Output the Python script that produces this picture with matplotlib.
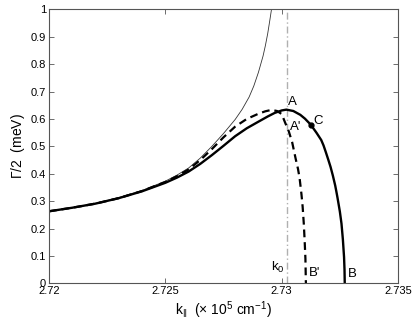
import matplotlib
matplotlib.use("Agg")
import matplotlib.pyplot as plt

plt.rcParams['font.family'] = ['Liberation Sans', 'DejaVu Sans']
plt.rcParams['mathtext.fontset'] = 'custom'
plt.rcParams['mathtext.rm'] = 'Liberation Sans'
plt.rcParams['mathtext.it'] = 'Liberation Sans'

# solid curve (A, C, B)
k_solid = [2.7200, 2.7210, 2.7220, 2.7230, 2.7240, 2.7250, 2.7255, 2.7260, 2.7265,
           2.7270, 2.7275, 2.7280, 2.7285, 2.7290, 2.7294, 2.7297, 2.7300, 2.7302,
           2.7305, 2.7308, 2.7310, 2.73125, 2.7315, 2.7317, 2.7318, 2.7319, 2.7320,
           2.7321, 2.7322, 2.7323, 2.73235, 2.7324, 2.7325, 2.73257, 2.73263, 2.73268,
           2.7327, 2.73271]
g_solid = [0.263, 0.276, 0.291, 0.311, 0.336, 0.367, 0.386, 0.408, 0.436,
           0.468, 0.502, 0.537, 0.566, 0.590, 0.609, 0.622, 0.631, 0.634,
           0.629, 0.615, 0.601, 0.579, 0.549, 0.523, 0.503, 0.478, 0.452,
           0.425, 0.393, 0.357, 0.335, 0.312, 0.262, 0.218, 0.160, 0.096,
           0.050, 0.0]

# dashed curve (A', B')
k_dash = [2.7200, 2.7210, 2.7220, 2.7230, 2.7240, 2.7250, 2.7255, 2.7260, 2.7265,
          2.7270, 2.7275, 2.7280, 2.7285, 2.7290, 2.7293, 2.72956, 2.7298, 2.7300,
          2.73015, 2.7303, 2.73045, 2.7306, 2.7307, 2.73077, 2.73085, 2.7309,
          2.73095, 2.73099, 2.73102, 2.73104]
g_dash = [0.263, 0.276, 0.291, 0.311, 0.337, 0.370, 0.391, 0.416, 0.450,
          0.490, 0.533, 0.572, 0.600, 0.619, 0.628, 0.633, 0.629, 0.618,
          0.586, 0.556, 0.515, 0.455, 0.418, 0.384, 0.325, 0.280,
          0.218, 0.150, 0.090, 0.0]

# thin curve
k_thin = [2.7200, 2.7210, 2.7220, 2.7230, 2.7240, 2.7250, 2.7255, 2.7260, 2.7265,
          2.7270, 2.7275, 2.7280, 2.7283, 2.7286, 2.7288, 2.7290, 2.7292, 2.7293,
          2.7294, 2.72949, 2.72958, 2.7297]
g_thin = [0.263, 0.276, 0.292, 0.313, 0.339, 0.373, 0.395, 0.421, 0.457,
          0.500, 0.547, 0.598, 0.635, 0.680, 0.720, 0.770, 0.830, 0.868,
          0.912, 0.960, 1.010, 1.090]

k0 = 2.73022
point_C = (2.73125, 0.579)

fig = plt.figure(figsize=(4.15, 3.22), dpi=100)
ax = fig.add_axes([0.1181, 0.120, 0.841, 0.851])

ax.plot(k_thin, g_thin, color='#333333', lw=0.6)
ax.axvline(k0, color='#b0b0b0', lw=1.0, ls=(0, (5, 2, 1, 2)))
ax.plot(k_dash, g_dash, color='black', lw=1.6, ls=(0, (3.5, 2.2)))
ax.plot(k_solid, g_solid, color='black', lw=1.7)
ax.plot([point_C[0]], [point_C[1]], 'o', color='black', ms=3.5)

fs = 9.5
ax.text(2.73047, 0.662, 'A', fontsize=fs, ha='center', va='center')
ax.text(2.73062, 0.571, "A'", fontsize=fs, ha='center', va='center')
ax.text(2.73157, 0.592, 'C', fontsize=fs, ha='center', va='center')
ax.text(2.72984, 0.058, r'k$_0$', fontsize=fs, ha='center', va='center')
ax.text(2.73142, 0.038, "B'", fontsize=fs, ha='center', va='center')
ax.text(2.73302, 0.034, 'B', fontsize=fs, ha='center', va='center')

ax.set_xlim(2.72, 2.735)
ax.set_ylim(0, 1)
ax.set_xticks([2.72, 2.725, 2.73, 2.735])
ax.set_xticklabels(['2.72', '2.725', '2.73', '2.735'])
ax.set_yticks([0, 0.1, 0.2, 0.3, 0.4, 0.5, 0.6, 0.7, 0.8, 0.9, 1])
ax.set_yticklabels(['0', '0.1', '0.2', '0.3', '0.4', '0.5', '0.6', '0.7', '0.8', '0.9', '1'])
ax.tick_params(direction='in', top=True, right=True, labelsize=8, length=3.5,
               width=0.6, color='#555555', pad=2)
for s in ax.spines.values():
    s.set_color('#555555')
    s.set_linewidth(0.8)

ax.set_xlabel(r'k$_{\|}$  ($\times$ 10$^5$ cm$^{-1}$)', fontsize=10, labelpad=2)
ax.set_ylabel(r'$\Gamma$/2  (meV)', fontsize=10, labelpad=3)

fig.savefig('out.png', dpi=100)
